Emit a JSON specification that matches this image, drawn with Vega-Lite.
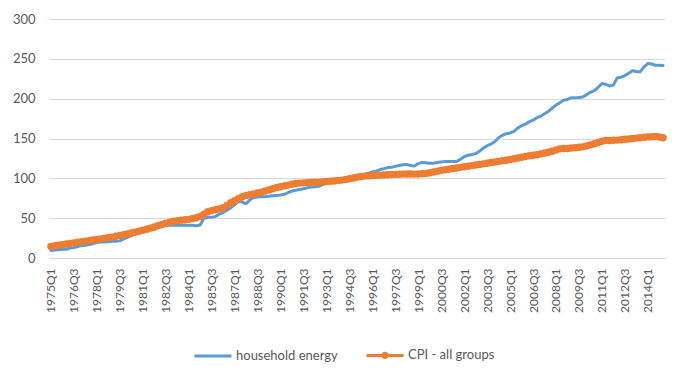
{
"$schema": "https://vega.github.io/schema/vega-lite/v6.json",
"width": 616, "height": 239,
"autosize": {"type": "none"},
"padding": {"left": 49, "top": 19, "right": 22, "bottom": 114},
"background": "white",
"config": {"view": {"stroke": null}, "font": "Lato"},
"data": {"values": [
{"q":"1975Q1","hh":9.5,"cpi":14.5},{"q":"1975Q2","hh":10,"cpi":15.3},{"q":"1975Q3","hh":10.5,"cpi":16},{"q":"1975Q4","hh":11,"cpi":16.8},
{"q":"1976Q1","hh":11,"cpi":17.5},{"q":"1976Q2","hh":12.5,"cpi":18.3},{"q":"1976Q3","hh":13,"cpi":19},{"q":"1976Q4","hh":14.5,"cpi":19.8},
{"q":"1977Q1","hh":15.5,"cpi":20.5},{"q":"1977Q2","hh":16,"cpi":21.2},{"q":"1977Q3","hh":17,"cpi":21.8},{"q":"1977Q4","hh":18,"cpi":22.5},
{"q":"1978Q1","hh":19.5,"cpi":23.2},{"q":"1978Q2","hh":20,"cpi":24},{"q":"1978Q3","hh":20,"cpi":24.7},{"q":"1978Q4","hh":20.5,"cpi":25.5},
{"q":"1979Q1","hh":21,"cpi":26.2},{"q":"1979Q2","hh":21,"cpi":27.2},{"q":"1979Q3","hh":21.5,"cpi":28.2},{"q":"1979Q4","hh":24,"cpi":29.2},
{"q":"1980Q1","hh":26,"cpi":30.2},{"q":"1980Q2","hh":28,"cpi":31.3},{"q":"1980Q3","hh":30,"cpi":32.4},{"q":"1980Q4","hh":32,"cpi":33.5},
{"q":"1981Q1","hh":34,"cpi":34.8},{"q":"1981Q2","hh":35,"cpi":36},{"q":"1981Q3","hh":36,"cpi":37.5},{"q":"1981Q4","hh":36,"cpi":39},
{"q":"1982Q1","hh":39,"cpi":40.5},{"q":"1982Q2","hh":40.5,"cpi":42},{"q":"1982Q3","hh":41,"cpi":43.5},{"q":"1982Q4","hh":41,"cpi":45},
{"q":"1983Q1","hh":41,"cpi":46},{"q":"1983Q2","hh":41,"cpi":46.8},{"q":"1983Q3","hh":41,"cpi":47.5},{"q":"1983Q4","hh":41,"cpi":48},
{"q":"1984Q1","hh":41,"cpi":48.5},{"q":"1984Q2","hh":41,"cpi":49.5},{"q":"1984Q3","hh":40.5,"cpi":50.5},{"q":"1984Q4","hh":41.5,"cpi":52},
{"q":"1985Q1","hh":50,"cpi":55},{"q":"1985Q2","hh":51,"cpi":58},{"q":"1985Q3","hh":51,"cpi":59.5},{"q":"1985Q4","hh":52,"cpi":60.5},
{"q":"1986Q1","hh":55,"cpi":61.5},{"q":"1986Q2","hh":57,"cpi":63},{"q":"1986Q3","hh":60,"cpi":66},{"q":"1986Q4","hh":63,"cpi":69.5},
{"q":"1987Q1","hh":67,"cpi":72},{"q":"1987Q2","hh":71,"cpi":74.5},{"q":"1987Q3","hh":70.5,"cpi":77},{"q":"1987Q4","hh":68,"cpi":78.5},
{"q":"1988Q1","hh":73,"cpi":79.5},{"q":"1988Q2","hh":76,"cpi":80.5},{"q":"1988Q3","hh":76.5,"cpi":81.5},{"q":"1988Q4","hh":77,"cpi":82.5},
{"q":"1989Q1","hh":77,"cpi":84},{"q":"1989Q2","hh":77.5,"cpi":85.5},{"q":"1989Q3","hh":78,"cpi":87},{"q":"1989Q4","hh":78.5,"cpi":88.5},
{"q":"1990Q1","hh":79,"cpi":89.5},{"q":"1990Q2","hh":80,"cpi":90.5},{"q":"1990Q3","hh":82,"cpi":91.5},{"q":"1990Q4","hh":84,"cpi":92.5},
{"q":"1991Q1","hh":85,"cpi":93.5},{"q":"1991Q2","hh":86,"cpi":94},{"q":"1991Q3","hh":87,"cpi":94.3},{"q":"1991Q4","hh":88,"cpi":94.5},
{"q":"1992Q1","hh":89,"cpi":94.8},{"q":"1992Q2","hh":89.5,"cpi":95},{"q":"1992Q3","hh":90,"cpi":95.2},{"q":"1992Q4","hh":92,"cpi":95.5},
{"q":"1993Q1","hh":94,"cpi":96},{"q":"1993Q2","hh":96,"cpi":96.3},{"q":"1993Q3","hh":97,"cpi":96.7},{"q":"1993Q4","hh":98,"cpi":97.2},
{"q":"1994Q1","hh":99,"cpi":97.8},{"q":"1994Q2","hh":100,"cpi":98.5},{"q":"1994Q3","hh":101,"cpi":99.5},{"q":"1994Q4","hh":102,"cpi":100.5},
{"q":"1995Q1","hh":103,"cpi":101.5},{"q":"1995Q2","hh":104,"cpi":102.3},{"q":"1995Q3","hh":105,"cpi":102.8},{"q":"1995Q4","hh":106.5,"cpi":103.2},
{"q":"1996Q1","hh":108,"cpi":103.5},{"q":"1996Q2","hh":109,"cpi":103.8},{"q":"1996Q3","hh":111,"cpi":104},{"q":"1996Q4","hh":112,"cpi":104.3},
{"q":"1997Q1","hh":113.5,"cpi":104.5},{"q":"1997Q2","hh":114,"cpi":104.8},{"q":"1997Q3","hh":115,"cpi":105},{"q":"1997Q4","hh":116,"cpi":105.2},
{"q":"1998Q1","hh":117,"cpi":105.3},{"q":"1998Q2","hh":117.5,"cpi":105.5},{"q":"1998Q3","hh":116,"cpi":105.5},{"q":"1998Q4","hh":115.5,"cpi":105.3},
{"q":"1999Q1","hh":118.5,"cpi":105.5},{"q":"1999Q2","hh":120,"cpi":105.8},{"q":"1999Q3","hh":119.5,"cpi":106.2},{"q":"1999Q4","hh":119,"cpi":107},
{"q":"2000Q1","hh":119,"cpi":108},{"q":"2000Q2","hh":120,"cpi":109},{"q":"2000Q3","hh":120.5,"cpi":110},{"q":"2000Q4","hh":121,"cpi":110.8},
{"q":"2001Q1","hh":121,"cpi":111.5},{"q":"2001Q2","hh":121,"cpi":112.3},{"q":"2001Q3","hh":121,"cpi":113},{"q":"2001Q4","hh":124,"cpi":113.8},
{"q":"2002Q1","hh":127,"cpi":114.5},{"q":"2002Q2","hh":129,"cpi":115.3},{"q":"2002Q3","hh":130,"cpi":116},{"q":"2002Q4","hh":131,"cpi":116.8},
{"q":"2003Q1","hh":134,"cpi":117.5},{"q":"2003Q2","hh":138,"cpi":118.2},{"q":"2003Q3","hh":141,"cpi":119},{"q":"2003Q4","hh":143,"cpi":119.8},
{"q":"2004Q1","hh":146,"cpi":120.5},{"q":"2004Q2","hh":151,"cpi":121.3},{"q":"2004Q3","hh":154,"cpi":122},{"q":"2004Q4","hh":156,"cpi":122.8},
{"q":"2005Q1","hh":157,"cpi":123.7},{"q":"2005Q2","hh":159,"cpi":124.6},{"q":"2005Q3","hh":163,"cpi":125.5},{"q":"2005Q4","hh":166,"cpi":126.5},
{"q":"2006Q1","hh":168,"cpi":127.5},{"q":"2006Q2","hh":171,"cpi":128.3},{"q":"2006Q3","hh":173,"cpi":129},{"q":"2006Q4","hh":176,"cpi":129.7},
{"q":"2007Q1","hh":178,"cpi":130.7},{"q":"2007Q2","hh":181,"cpi":131.7},{"q":"2007Q3","hh":184,"cpi":132.7},{"q":"2007Q4","hh":188,"cpi":134},
{"q":"2008Q1","hh":192,"cpi":135.5},{"q":"2008Q2","hh":195,"cpi":137},{"q":"2008Q3","hh":198,"cpi":137.5},{"q":"2008Q4","hh":199,"cpi":137.5},
{"q":"2009Q1","hh":201,"cpi":138},{"q":"2009Q2","hh":201,"cpi":138.5},{"q":"2009Q3","hh":201.5,"cpi":139},{"q":"2009Q4","hh":202,"cpi":139.5},
{"q":"2010Q1","hh":205,"cpi":140.5},{"q":"2010Q2","hh":208,"cpi":142},{"q":"2010Q3","hh":210,"cpi":143.5},{"q":"2010Q4","hh":214,"cpi":145},
{"q":"2011Q1","hh":219,"cpi":146.5},{"q":"2011Q2","hh":218,"cpi":147.5},{"q":"2011Q3","hh":216,"cpi":147.5},{"q":"2011Q4","hh":217,"cpi":147.8},
{"q":"2012Q1","hh":226,"cpi":148},{"q":"2012Q2","hh":227,"cpi":148.5},{"q":"2012Q3","hh":229,"cpi":149},{"q":"2012Q4","hh":232,"cpi":149.5},
{"q":"2013Q1","hh":235,"cpi":150},{"q":"2013Q2","hh":234,"cpi":150.5},{"q":"2013Q3","hh":233.5,"cpi":151},{"q":"2013Q4","hh":240,"cpi":151.5},
{"q":"2014Q1","hh":244,"cpi":152},{"q":"2014Q2","hh":243.5,"cpi":152.3},{"q":"2014Q3","hh":242,"cpi":152.5},{"q":"2014Q4","hh":242,"cpi":151.8},
{"q":"2015Q1","hh":241.5,"cpi":151}
]},
"encoding": {
  "x": {"field": "q", "type": "ordinal", "sort": null,
    "scale": {"type": "point", "padding": 0.5},
    "axis": {"title": null, "labelAngle": -90, "ticks": false, "domain": true, "domainColor": "#D9D9D9", "domainWidth": 1,
      "grid": false, "labelPadding": 10, "labelFontSize": 12, "labelColor": "#595959", "labelOverlap": false,
      "values": ["1975Q1","1976Q3","1978Q1","1979Q3","1981Q1","1982Q3","1984Q1","1985Q3","1987Q1","1988Q3","1990Q1","1991Q3","1993Q1","1994Q3","1996Q1","1997Q3","1999Q1","2000Q3","2002Q1","2003Q3","2005Q1","2006Q3","2008Q1","2009Q3","2011Q1","2012Q3","2014Q1"]}}
},
"layer": [
  {"mark": {"type": "line", "strokeWidth": 3, "strokeJoin": "round", "strokeCap": "round"},
   "encoding": {
     "y": {"field": "hh", "type": "quantitative", "scale": {"domain": [0, 300], "nice": false},
       "axis": {"title": null, "values": [0,50,100,150,200,250,300], "labelOverlap": false, "domain": false, "ticks": false, "gridColor": "#D9D9D9", "labelPadding": 14, "labelFontSize": 13, "labelColor": "#595959"}},
     "color": {"datum": "household energy", "type": "nominal",
       "scale": {"domain": ["household energy", "CPI - all groups"], "range": ["#5B9BD5", "#ED7D31"]},
       "legend": {"title": null, "orient": "none", "legendX": 144, "legendY": 316, "direction": "horizontal",
         "symbolType": "stroke", "symbolSize": 1369, "symbolStrokeWidth": 3, "labelFontSize": 13, "labelColor": "#595959",
         "labelOffset": 3, "columnPadding": 22,
         "encode": {"symbols": {"update": {"shape": {"signal": "datum.value === 'CPI - all groups' ? 'M-1,0H1M0.12,0A0.12,0.12 0 1,1 -0.12,0A0.12,0.12 0 1,1 0.12,0' : 'stroke'"}}}}}}
   }},
  {"mark": {"type": "line", "strokeWidth": 3, "strokeJoin": "round", "point": {"filled": true, "size": 55}},
   "encoding": {
     "y": {"field": "cpi", "type": "quantitative", "scale": {"domain": [0, 300], "nice": false},
       "axis": {"title": null, "values": [0,50,100,150,200,250,300], "labelOverlap": false, "domain": false, "ticks": false, "gridColor": "#D9D9D9", "labelPadding": 14, "labelFontSize": 13, "labelColor": "#595959"}},
     "color": {"datum": "CPI - all groups", "type": "nominal"}
   }}
]
}
